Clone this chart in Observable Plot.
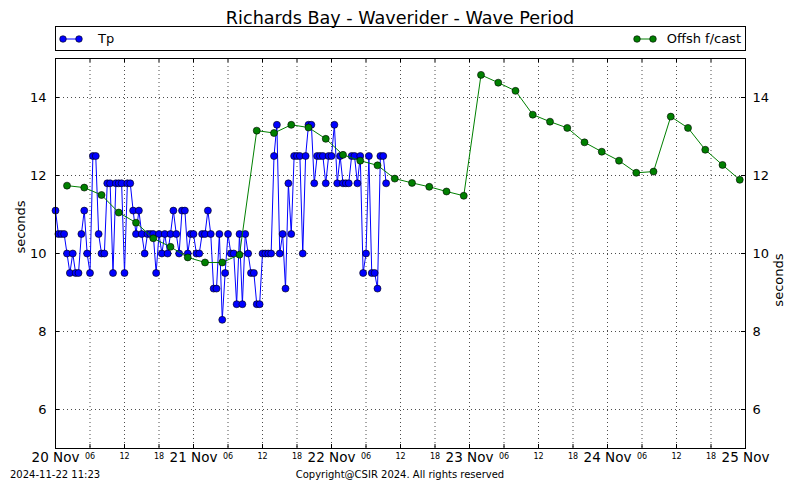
<!DOCTYPE html>
<html>
<head>
<meta charset="utf-8">
<script src="https://cdn.jsdelivr.net/npm/d3@7"></script>
<script src="https://cdn.jsdelivr.net/npm/@observablehq/plot@0.6"></script>
<style>
  html, body { margin: 0; padding: 0; background: #fff; }
  #wrap { position: relative; width: 800px; height: 480px; overflow: hidden; font-family: "DejaVu Sans", sans-serif; color: #000; }
  #chart { position: absolute; left: 0; top: 0; }
  #title { position: absolute; left: 0; top: 7px; width: 800px; text-align: center; font-size: 17.6px; line-height: 22px; }
  #legend { position: absolute; left: 55px; top: 26px; width: 691px; height: 25px; box-sizing: border-box; border: 1px solid #000; font-size: 13px; }
  .leg { position: absolute; top: 3px; height: 18px; line-height: 18px; white-space: nowrap; }
  .leg svg { vertical-align: middle; margin-top: -2px; }
  .foot { position: absolute; top: 469px; font-size: 10px; line-height: 12px; white-space: nowrap; }
</style>
</head>
<body>
<div id="wrap">
  <div id="chart"></div>
  <div id="title"></div>
  <div id="legend"></div>
  <div id="footL" class="foot" style="left:10px"></div>
  <div id="footC" class="foot" style="left:0;width:800px;text-align:center"></div>
</div>
<script>
// ---------- data ----------
const titleText = "Richards Bay - Waverider - Wave Period";
const seriesNames = ["Tp", "Offsh f/cast"];
const seriesColors = ["#0000ff", "#008000"];
const yLabel = "seconds";
const footLeft = "2024-11-22 11:23";
const footCenter = "Copyright@CSIR 2024. All rights reserved";

// Tp measurements, every 30 minutes from 20 Nov 00:00 (UTC)
const tpStart = Date.UTC(2024, 10, 20, 0, 0);
const tpStepMinutes = 30;
const tpValues = [
  11.1, 10.5, 10.5, 10.5, 10.0, 9.5, 10.0, 9.5, 9.5, 10.5,
  11.1, 10.0, 9.5, 12.5, 12.5, 10.5, 10.0, 10.0, 11.8, 11.8,
  9.5, 11.8, 11.8, 11.8, 9.5, 11.8, 11.8, 11.1, 10.5, 11.1,
  10.5, 10.0, 10.5, 10.5, 10.5, 9.5, 10.5, 10.0, 10.5, 10.0,
  10.5, 11.1, 10.5, 10.0, 11.1, 11.1, 10.0, 10.5, 10.5, 10.0,
  10.0, 10.5, 10.5, 11.1, 10.5, 9.1, 9.1, 10.5, 8.3, 9.5,
  10.5, 10.0, 10.0, 8.7, 10.5, 8.7, 10.5, 10.0, 9.5, 9.5,
  8.7, 8.7, 10.0, 10.0, 10.0, 10.0, 12.5, 13.3, 10.0, 10.5,
  9.1, 11.8, 10.5, 12.5, 12.5, 12.5, 10.0, 12.5, 13.3, 13.3,
  11.8, 12.5, 12.5, 12.5, 11.8, 12.5, 12.5, 13.3, 11.8, 12.5,
  11.8, 11.8, 11.8, 12.5, 12.5, 11.8, 12.5, 9.5, 10.0, 12.5,
  9.5, 9.5, 9.1, 12.5, 12.5, 11.8
];

// Offshore forecast, every 3 hours from 20 Nov 02:00 (UTC)
const fcStart = Date.UTC(2024, 10, 20, 2, 0);
const fcStepHours = 3;
const fcValues = [
  11.74, 11.69, 11.50, 11.05, 10.79, 10.39, 10.17, 9.90, 9.77, 9.77,
  9.97, 13.15, 13.09, 13.30, 13.23, 12.94, 12.53, 12.38, 12.26, 11.92,
  11.81, 11.71, 11.59, 11.48, 14.58, 14.38, 14.17, 13.56, 13.38, 13.22,
  12.85, 12.61, 12.38, 12.07, 12.10, 13.51, 13.22, 12.66, 12.27, 11.89
];

const yDomain = [5, 15];
const yTicks = [6, 8, 10, 12, 14];
const dayLabels = ["20 Nov", "21 Nov", "22 Nov", "23 Nov", "24 Nov", "25 Nov"];
const hourLabels = ["06", "12", "18"];
const xStart = Date.UTC(2024, 10, 20);
const xEnd = Date.UTC(2024, 10, 25);

// ---------- build tables ----------
const HOUR = 3600 * 1000;
const tp = tpValues.map((v, i) => ({t: new Date(tpStart + i * tpStepMinutes * 60000), v}));
const fc = fcValues.map((v, i) => ({t: new Date(fcStart + i * fcStepHours * HOUR), v}));
const dayTicks = dayLabels.map((s, i) => new Date(xStart + i * 24 * HOUR));
const hourTicks = [];
for (let d = 0; d < dayLabels.length - 1; d++) {
  hourLabels.forEach((h) => hourTicks.push(new Date(xStart + (d * 24 + (+h)) * HOUR)));
}
const allXTicks = [...dayTicks, ...hourTicks];

// ---------- layout ----------
const W = 800, H = 480;
const mL = 55, mR = 55, mT = 58, mB = 32;
const fw = W - mL - mR, fh = H - mT - mB;
const tickLen = 4;
const gridStyle = {stroke: "#000", strokeOpacity: 0.7, strokeDasharray: "1,3", strokeWidth: 1};

const chart = Plot.plot({
  width: W, height: H,
  marginLeft: mL, marginRight: mR, marginTop: mT, marginBottom: mB,
  style: {fontFamily: "DejaVu Sans, sans-serif", background: "transparent", color: "#000", overflow: "visible"},
  x: {type: "utc", domain: [new Date(xStart), new Date(xEnd)]},
  y: {domain: yDomain},
  marks: [
    Plot.gridY(yTicks, gridStyle),
    Plot.gridX(allXTicks, gridStyle),
    // inward tick marks
    Plot.tickY(yTicks, {y: d => d, insetRight: fw - tickLen, stroke: "#000"}),
    Plot.tickY(yTicks, {y: d => d, insetLeft: fw - tickLen, stroke: "#000"}),
    Plot.tickX(allXTicks, {x: d => d, insetTop: fh - tickLen, stroke: "#000"}),
    Plot.tickX(allXTicks, {x: d => d, insetBottom: fh - tickLen, stroke: "#000"}),
    // axes labels
    Plot.axisY(yTicks, {anchor: "left", tickSize: 0, tickPadding: 9, fontSize: 13, label: null}),
    Plot.axisY(yTicks, {anchor: "right", tickSize: 0, tickPadding: 7, fontSize: 13, label: null}),
    Plot.axisX(dayTicks, {anchor: "bottom", tickSize: 0, tickPadding: 4, fontSize: 13.5, label: null,
      tickFormat: (d) => dayLabels[dayTicks.findIndex(t => +t === +d)]}),
    Plot.axisX(hourTicks, {anchor: "bottom", tickSize: 0, tickPadding: 5, fontSize: 8, label: null,
      tickFormat: (d) => String(d.getUTCHours()).padStart(2, "0")}),
    Plot.text([yLabel], {frameAnchor: "left", dx: -35, rotate: -90, fontSize: 13, text: d => d}),
    Plot.text([yLabel], {frameAnchor: "right", dx: 33, rotate: -90, fontSize: 13, text: d => d}),
    // Tp series
    Plot.line(tp, {x: "t", y: "v", stroke: seriesColors[0], strokeWidth: 1}),
    Plot.dot(tp, {x: "t", y: "v", r: 3.5, fill: seriesColors[0], stroke: "#000", strokeWidth: 0.6}),
    // forecast series
    Plot.line(fc, {x: "t", y: "v", stroke: seriesColors[1], strokeWidth: 1}),
    Plot.dot(fc, {x: "t", y: "v", r: 3.5, fill: seriesColors[1], stroke: "#000", strokeWidth: 0.6}),
    Plot.frame({stroke: "#000", strokeWidth: 1})
  ]
});
document.getElementById("chart").appendChild(chart);

// ---------- title, legend, footer ----------
document.getElementById("title").textContent = titleText;
function legSym(color) {
  return `<svg width="24" height="10" viewBox="0 0 24 10"><line x1="4" y1="5" x2="20" y2="5" stroke="${color}" stroke-width="1"/>` +
    `<circle cx="4" cy="5" r="3.3" fill="${color}" stroke="#000" stroke-width="0.6"/>` +
    `<circle cx="20" cy="5" r="3.3" fill="${color}" stroke="#000" stroke-width="0.6"/></svg>`;
}
const legend = document.getElementById("legend");
legend.innerHTML =
  `<div class="leg" style="left:3px">${legSym(seriesColors[0])}<span style="margin-left:15px">${seriesNames[0]}</span></div>` +
  `<div class="leg" style="right:4px">${legSym(seriesColors[1])}<span style="margin-left:10px">${seriesNames[1]}</span></div>`;
document.getElementById("footL").textContent = footLeft;
document.getElementById("footC").textContent = footCenter;
</script>
</body>
</html>
